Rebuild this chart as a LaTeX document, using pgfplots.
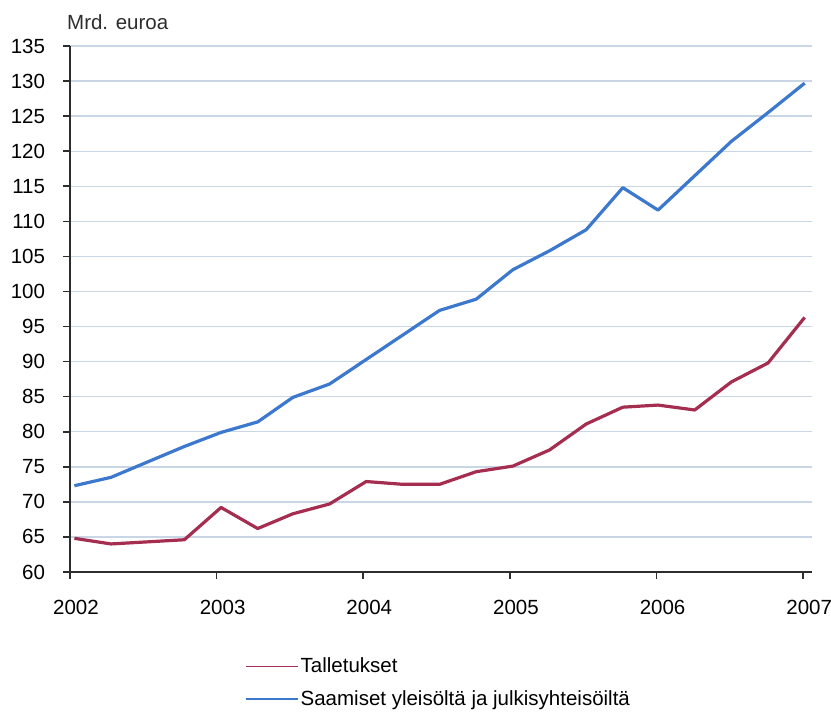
\documentclass[border=0pt]{standalone}
\usepackage{fontspec}
\setmainfont{Liberation Sans}
\usepackage{pgfplots}
\pgfplotsset{compat=1.18}
\definecolor{depred}{RGB}{165,45,80}
\definecolor{loanblue}{RGB}{60,120,205}
\definecolor{gridblue}{RGB}{200,214,230}
\definecolor{axisgray}{RGB}{45,45,45}
\newcommand{\chartfont}{\fontsize{20.5}{24}\selectfont}

\begin{document}
\chartfont
\begin{tikzpicture}
\path[use as bounding box] (-70pt,-143pt) rectangle (761pt,572pt);
\begin{axis}[
  at={(0,0)}, anchor=south west,
  scale only axis, width=742pt, height=526pt,
  xmin=2002, xmax=2007.06, ymin=60, ymax=135,
  axis x line*=bottom, axis y line*=left,
  axis line style={axisgray, line width=2pt},
  xtick={2002,2003,2004,2005,2006,2007},
  ytick={60,65,...,135},
  ymajorgrids, grid style={gridblue, line width=1.4pt},
  tick align=outside, major tick length=7pt,
  tick style={axisgray, line width=1.6pt},
  /pgf/number format/assume math mode=true,
  /pgf/number format/1000 sep={},
  ticklabel style={font=\chartfont, text=black},
  xticklabel style={xshift=6pt, yshift=-14pt},
  yticklabel style={xshift=-11pt},
  clip=false,
  legend style={at={(axis description cs:0.2358,-0.158)}, anchor=north west,
    draw=none, fill=none, font=\chartfont, row sep=11pt, inner sep=0pt},
  legend cell align=left,
  legend image code/.code={\draw[#1, line width=1.5pt] (0pt,0pt) -- (52pt,0pt);},
]
% deposits
\addplot[depred, line width=3.2pt, line join=round] coordinates {
 (2002.03,64.8) (2002.28,64.0) (2002.53,64.3) (2002.78,64.6)
 (2003.03,69.2) (2003.28,66.2) (2003.52,68.3) (2003.77,69.7)
 (2004.02,72.9) (2004.27,72.5) (2004.52,72.5) (2004.77,74.3)
 (2005.02,75.1) (2005.27,77.4) (2005.52,81.1) (2005.77,83.5)
 (2006.01,83.8) (2006.26,83.1) (2006.51,87.1) (2006.76,89.8)
 (2007.01,96.3)};
\addlegendentry{Talletukset}
% claims on the public and public entities
\addplot[loanblue, line width=3.2pt, line join=round] coordinates {
 (2002.03,72.3) (2002.28,73.5) (2002.53,75.7) (2002.78,77.9)
 (2003.03,79.9) (2003.28,81.4) (2003.52,84.9) (2003.77,86.8)
 (2004.02,90.3) (2004.27,93.8) (2004.52,97.3) (2004.77,98.9)
 (2005.02,103.1) (2005.27,105.8) (2005.52,108.8) (2005.77,114.8)
 (2006.01,111.6) (2006.26,116.5) (2006.51,121.4) (2006.76,125.5)
 (2007.01,129.7)};
\addlegendentry{Saamiset yleisöltä ja julkisyhteisöiltä}
\node[anchor=west, inner sep=0pt, font=\chartfont, text=axisgray]
  at (axis description cs:0,1) [xshift=-3pt, yshift=24pt] {Mrd. euroa};
\end{axis}
\end{tikzpicture}
\end{document}
